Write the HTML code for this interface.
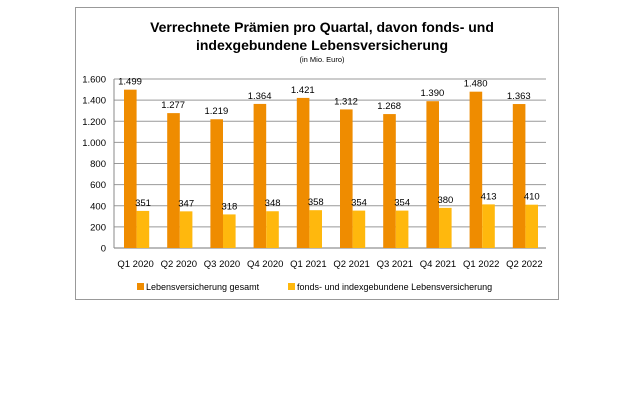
<!DOCTYPE html>
<html><head><meta charset="utf-8"><style>
body{margin:0;background:#fff;}
svg text{font-family:"Liberation Sans",sans-serif;fill:#000;}
</style></head><body>
<svg width="620" height="413">
<rect x="75.5" y="7.5" width="483" height="292" fill="#fff" stroke="#999"/>
<text x="322" y="32" font-size="14" font-weight="bold" text-anchor="middle">Verrechnete Prämien pro Quartal, davon fonds- und</text>
<text x="322" y="50" font-size="14" font-weight="bold" text-anchor="middle">indexgebundene Lebensversicherung</text>
<text x="322" y="62" font-size="7.5" text-anchor="middle">(in Mio. Euro)</text>
<g id="grid"></g><g id="bars"></g>
<g>
<rect x="137" y="283" width="7" height="7" fill="#ef8c00"/>
<text x="146" y="290" font-size="9">Lebensversicherung gesamt</text>
<rect x="288" y="283" width="7" height="7" fill="#ffb80d"/>
<text x="297" y="290" font-size="9">fonds- und indexgebundene Lebensversicherung</text>
</g>
</svg>
<script>
const categories=["Q1 2020","Q2 2020","Q3 2020","Q4 2020","Q1 2021","Q2 2021","Q3 2021","Q4 2021","Q1 2022","Q2 2022"];
const totalValues=[1499,1277,1219,1364,1421,1312,1268,1390,1480,1363];
const fondsValues=[351,347,318,348,358,354,354,380,413,410];
const yTicks=[0,200,400,600,800,1000,1200,1400,1600];
const fmt=v=>v>=1000?Math.floor(v/1000)+"."+String(v%1000).padStart(3,"0"):String(v);
const L=114,R=546,T=79,B=248,maxV=1600;
const y=v=>B-(v/maxV)*(B-T);
const gw=(R-L)/categories.length;
const ns="http://www.w3.org/2000/svg";
function mk(t,a,p){const e=document.createElementNS(ns,t);for(const k in a)e.setAttribute(k,a[k]);p.appendChild(e);return e;}
const grid=document.getElementById("grid"),bars=document.getElementById("bars");
yTicks.forEach(v=>{
 const l=mk("line",{x1:L,x2:R,y1:y(v),y2:y(v),stroke:v===0?"#777":"#999","stroke-width":1},grid);
 
 
 const t=mk("text",{x:L-8,y:y(v)+3.5,"font-size":9.5,"text-anchor":"end"},grid);
 t.textContent=fmt(v);
 
 
});
mk("line",{x1:L,x2:L,y1:T,y2:B,stroke:"#888"},grid);
categories.forEach((c,i)=>{
 const x0=L+i*gw;
 const b1=mk("rect",{x:x0+10,y:y(totalValues[i]),width:12.6,height:B-y(totalValues[i]),fill:"#ef8c00"},bars);
 
 
 const b2=mk("rect",{x:x0+22.6,y:y(fondsValues[i]),width:12.6,height:B-y(fondsValues[i]),fill:"#ffb80d"},bars);
 
 
 const t1=mk("text",{x:x0+16,y:y(totalValues[i])-5,"font-size":9.5,"text-anchor":"middle"},bars);
 t1.textContent=fmt(totalValues[i]);
 
 
 const t2=mk("text",{x:x0+29,y:y(fondsValues[i])-5,"font-size":9.5,"text-anchor":"middle"},bars);
 t2.textContent=fmt(fondsValues[i]);
 
 
 const xl=mk("text",{x:x0+gw/2,y:267,"font-size":9.5,"text-anchor":"middle"},bars);
 xl.textContent=c;
 
 
});
</script>
</body></html>
